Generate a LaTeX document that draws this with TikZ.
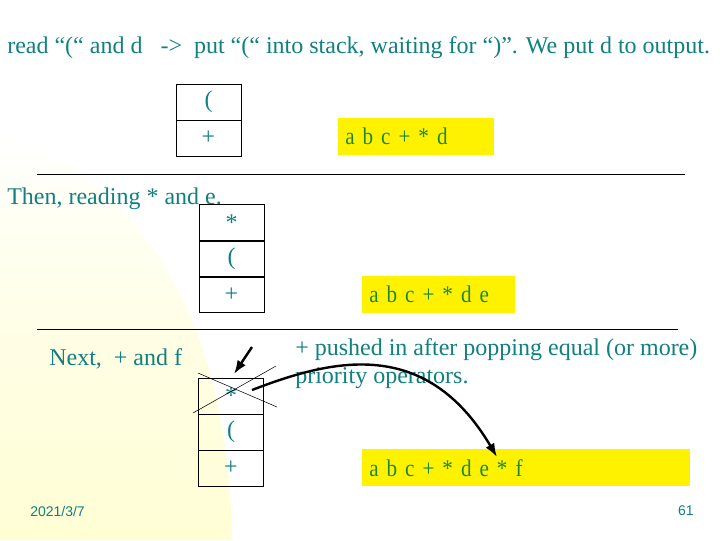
\documentclass[tikz,border=0pt]{standalone}
\usepackage{fontspec}
\setmainfont{Liberation Serif}
\newfontfamily\footfont{Liberation Sans}
\newfontfamily\outfont[FakeStretch=0.88]{Liberation Serif}
\usepackage{tikz}
\usetikzlibrary{positioning,arrows.meta}

\definecolor{slideteal}{RGB}{16,128,128}
\definecolor{outgreen}{RGB}{30,135,60}
\definecolor{paleyellow}{RGB}{255,254,212}

\begin{document}
\begin{tikzpicture}[
    x=0.75pt, y=-0.75pt,
    txt/.style={anchor=west, inner sep=0pt, text=slideteal, font=\fontsize{18}{21}\selectfont},
    cell/.style={draw, thin, minimum width=48.75pt, minimum height=27pt, inner sep=0pt, outer sep=0pt,
                 text=slideteal, font=\fontsize{18}{21}\selectfont},
    outbox/.style={fill=yellow, anchor=north west, minimum height=27.75pt, inner xsep=5.25pt, inner ysep=0pt,
                   align=left, text=outgreen, font=\outfont\fontsize{18}{21}\selectfont},
    rule/.style={thin},
    arrow/.style={-{Latex[length=3.6mm, width=2.6mm]}, line width=1.8pt}
]
\useasboundingbox (0,0) rectangle (720,540);
\shade[top color=white, bottom color=paleyellow, middle color=paleyellow!60]
    (0,130) .. controls (130,180) and (228,300) .. (232,540) -- (0,540) -- cycle;

\node[txt] (title) at (7,48) {read “(“ and d \ \ -> \ put “(“ into stack, waiting for “)”. We put d to output.};
\node[cell] (s1a) at (208.5,102) {(};
\node[cell, below=0pt of s1a] (s1b) {+};
\node[outbox, text width=106.5pt] (out1) at (338,118) {a b c + * d};
\draw[rule] (37,174) -- (685,174);

\node[txt] (step2) at (7,199) {Then, reading * and e.};
\node[cell] (s2a) at (231.5,222.5) {*};
\node[cell, below=0pt of s2a] (s2b) {(};
\node[cell, below=0pt of s2b] (s2c) {+};
\draw[line width=1.5pt] (s2a.south west) -- (s2a.south east);
\draw[line width=1.5pt] (s2b.south west) -- (s2b.south east);
\node[outbox, text width=104.25pt] (out2) at (362,276) {a b c + * d e};
\draw[rule] (37,329) -- (678,329);

\node[txt] (step3) at (49,359) {Next, \ + and f};
\node[txt, align=left] (note) at (295,364)
    {+ pushed in after popping equal (or more)\\ priority operators.};
\node[cell] (s3a) at (231,396) {*};
\node[cell, below=0pt of s3a] (s3b) {(};
\node[cell, below=0pt of s3b] (s3c) {+};
\node[outbox, text width=235.5pt] (out3) at (362,449) {a b c + * d e * f};
\draw[thin] (198,373) -- (277,407);
\draw[thin] (193,413) -- (276,366);
\coordinate (pushfrom) at (252,347);
\coordinate (pushto) at (234,374);
\coordinate (popfrom) at (252,390);
\coordinate (popto) at (497,457);
\draw[arrow] (pushfrom) -- (pushto);
\draw[arrow] (popfrom) .. controls (330,360) and (425,335) .. (popto);

\node[anchor=west, inner sep=0pt, text=slideteal, font=\footfont\fontsize{10.5}{12}\selectfont] (date) at (30,511) {2021/3/7};
\node[anchor=east, inner sep=0pt, text=slideteal, font=\footfont\fontsize{10.5}{12}\selectfont] (page) at (694,511) {61};
\end{tikzpicture}
\end{document}
